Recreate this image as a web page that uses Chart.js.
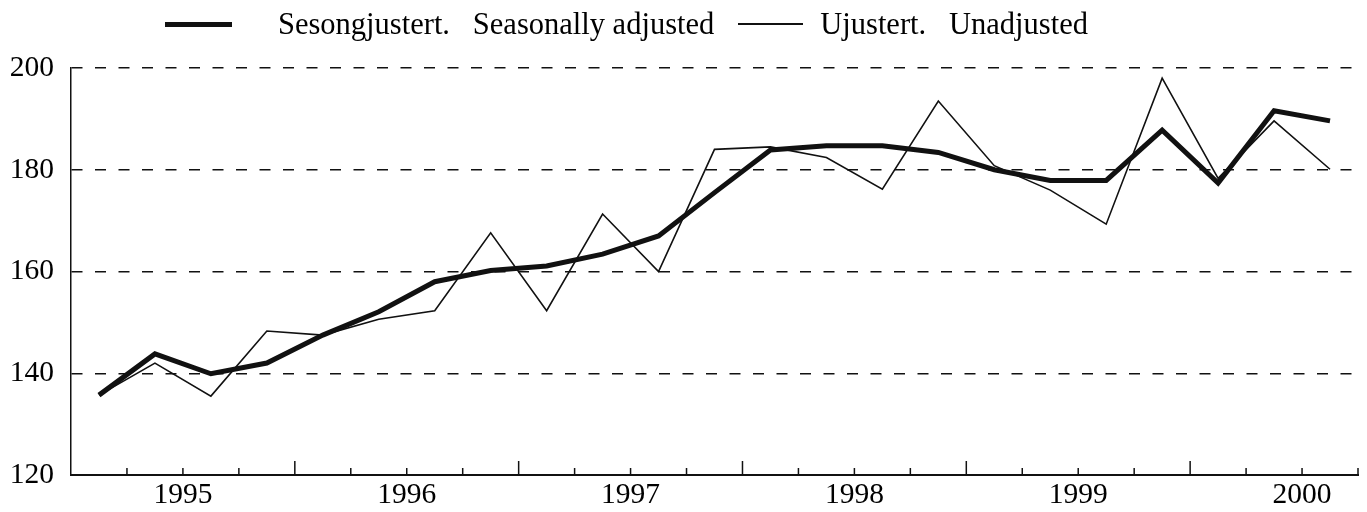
<!DOCTYPE html>
<html>
<head>
<meta charset="utf-8">
<script src="https://cdn.jsdelivr.net/npm/chart.js@4/dist/chart.umd.min.js"></script>
<style>
  body { margin: 0; background: #fff; }
  #wrap { position: relative; width: 1367px; height: 512px; }
  #legend {
    position: absolute; left: 165px; top: 9px; margin: 0; padding: 0;
    list-style: none; display: flex; align-items: center;
    font-family: "Liberation Serif", "DejaVu Serif", serif; font-size: 30.5px;
    line-height: 30px; color: #000; white-space: pre;
  }
  #legend li { display: flex; align-items: center; }
  #legend .line { display: inline-block; background: #111; }
  #legend li.thick .line { width: 67px; height: 5px; margin-right: 46px; }
  #legend li.thin { margin-left: 24px; }
  #legend li.thin .line { width: 65px; height: 1.5px; margin-right: 17px; }
</style>
</head>
<body>
<div id="wrap">
  <canvas id="chart"></canvas>
  <ul id="legend"></ul>
</div>
<script>
// quarters 1995K1 .. 2000K3
const quarters = [
  "1995K1", "1995K2", "1995K3", "1995K4",
  "1996K1", "1996K2", "1996K3", "1996K4",
  "1997K1", "1997K2", "1997K3", "1997K4",
  "1998K1", "1998K2", "1998K3", "1998K4",
  "1999K1", "1999K2", "1999K3", "1999K4",
  "2000K1", "2000K2", "2000K3",
];
const years = ["1995", "1996", "1997", "1998", "1999", "2000"];
const yTicks = [120, 140, 160, 180, 200];

const seasonallyAdjusted = [
  135.7, 143.8, 139.9, 142.0, 147.5, 152.1, 158.0, 160.2, 161.1, 163.4, 167.0, 175.5,
  183.9, 184.7, 184.7, 183.4, 180.0, 177.9, 177.9, 187.8, 177.4, 191.6, 189.6,
];
const unadjusted = [
  135.7, 142.0, 135.5, 148.3, 147.5, 150.6, 152.3, 167.6, 152.3, 171.3, 160.0, 184.0,
  184.5, 182.4, 176.2, 193.5, 180.8, 176.0, 169.3, 198.0, 178.3, 189.6, 180.1,
];

const seriesLabels = [
  "Sesongjustert.   Seasonally adjusted",
  "Ujustert.   Unadjusted",
];

const FONT = "'Liberation Serif', 'DejaVu Serif', serif";

function toPoints(values) {
  return values.map((v, i) => ({ x: i, y: v }));
}

function buildLegend() {
  const legend = document.getElementById("legend");
  ["thick", "thin"].forEach((cls, i) => {
    const item = document.createElement("li");
    item.className = cls;
    item.innerHTML = `<span class="line"></span><span>${seriesLabels[i]}</span>`;
    legend.appendChild(item);
  });
}

// small tick marks on the x axis, pointing up; longer at year boundaries
const quarterTicks = {
  id: "quarterTicks",
  afterDraw(chart) {
    const x = chart.scales.x;
    const ctx = chart.ctx;
    const bottom = chart.chartArea.bottom;
    ctx.save();
    ctx.strokeStyle = "#111";
    ctx.lineWidth = 1.5;
    for (let k = 1; k <= quarters.length; k++) {
      const px = x.getPixelForValue(k - 0.5);
      const len = k % 4 === 0 ? 14 : 7;
      ctx.beginPath();
      ctx.moveTo(px, bottom);
      ctx.lineTo(px, bottom - len);
      ctx.stroke();
    }
    ctx.restore();
  },
};

function initChart() {
  const ctx = document.getElementById("chart").getContext("2d");

  new Chart(ctx, {
    type: "line",
    data: {
      datasets: [
        {
          label: seriesLabels[0],
          data: toPoints(seasonallyAdjusted),
          borderColor: "#111",
          borderWidth: 5,
          borderJoinStyle: "miter",
          pointRadius: 0,
          tension: 0,
        },
        {
          label: seriesLabels[1],
          data: toPoints(unadjusted),
          borderColor: "#111",
          borderWidth: 1.6,
          pointRadius: 0,
          tension: 0,
        },
      ],
    },
    options: {
      responsive: true,
      maintainAspectRatio: false,
      animation: false,
      events: [],
      layout: { padding: { top: 68, right: 9, left: 0, bottom: 0 } },
      scales: {
        x: {
          type: "linear",
          min: -0.5,
          max: quarters.length - 0.5,
          afterBuildTicks(scale) {
            scale.ticks = years.map((y, i) => ({ value: i * 4 + 1.5 }));
          },
          afterFit(scale) {
            scale.height = 37;
          },
          grid: { display: false, drawTicks: false },
          border: { display: true, color: "#111", width: 2 },
          ticks: {
            autoSkip: false,
            maxRotation: 0,
            padding: 3,
            color: "#000",
            font: { family: FONT, size: 29.5 },
            callback(value) {
              return years[Math.round((value - 1.5) / 4)];
            },
          },
        },
        y: {
          min: yTicks[0],
          max: yTicks[yTicks.length - 1],
          afterBuildTicks(scale) {
            scale.ticks = yTicks.map((v) => ({ value: v }));
          },
          afterFit(scale) {
            scale.width = 71;
          },
          grid: {
            drawTicks: false,
            lineWidth: 1.5,
            color: (c) => (c.tick && c.tick.value === 120 ? "rgba(0,0,0,0)" : "#111"),
          },
          border: { display: true, color: "#111", width: 1.5, dash: [11, 12.5] },
          ticks: {
            padding: 17,
            color: "#000",
            font: { family: FONT, size: 29.5 },
          },
        },
      },
      plugins: {
        legend: { display: false },
        tooltip: { enabled: false },
      },
    },
    plugins: [quarterTicks],
  });
}

document.addEventListener("DOMContentLoaded", () => {
  buildLegend();
  initChart();
});
</script>
</body>
</html>
